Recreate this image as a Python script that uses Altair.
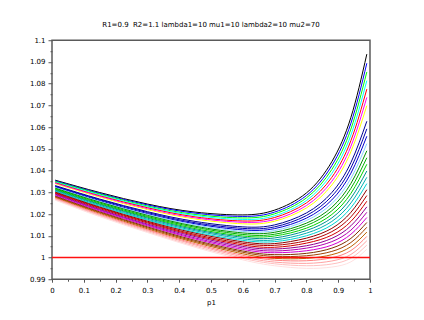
import altair as alt
import pandas as pd

# sample positions along p1
x_points = [0.01, 0.15, 0.3, 0.45, 0.6, 0.7, 0.8, 0.88, 0.94, 0.99]

# values of the 31 curves at each sample position (curve 0 = top/black ... curve 30 = lightest pink)
v001 = [1.0356, 1.0353, 1.0350, 1.0347, 1.0344, 1.0341, 1.0338, 1.0335, 1.0331, 1.0328, 1.0325, 1.0322, 1.0319, 1.0316, 1.0313, 1.0310, 1.0307, 1.0304, 1.0301, 1.0298, 1.0295, 1.0292, 1.0289, 1.0285, 1.0282, 1.0279, 1.0276, 1.0273, 1.0270, 1.0267, 1.0264]
v015 = [1.0299, 1.0295, 1.0292, 1.0288, 1.0284, 1.0281, 1.0277, 1.0273, 1.0269, 1.0266, 1.0262, 1.0258, 1.0255, 1.0251, 1.0247, 1.0244, 1.0240, 1.0236, 1.0232, 1.0229, 1.0225, 1.0221, 1.0218, 1.0214, 1.0210, 1.0207, 1.0203, 1.0199, 1.0195, 1.0192, 1.0188]
v030 = [1.0246, 1.0242, 1.0237, 1.0233, 1.0229, 1.0224, 1.0220, 1.0215, 1.0211, 1.0207, 1.0202, 1.0198, 1.0194, 1.0189, 1.0185, 1.0181, 1.0176, 1.0172, 1.0167, 1.0163, 1.0159, 1.0154, 1.0150, 1.0146, 1.0141, 1.0137, 1.0132, 1.0128, 1.0124, 1.0119, 1.0115]
v045 = [1.0209, 1.0204, 1.0198, 1.0193, 1.0187, 1.0182, 1.0177, 1.0171, 1.0166, 1.0160, 1.0155, 1.0150, 1.0144, 1.0139, 1.0133, 1.0128, 1.0123, 1.0117, 1.0112, 1.0106, 1.0101, 1.0096, 1.0090, 1.0085, 1.0079, 1.0074, 1.0069, 1.0063, 1.0058, 1.0052, 1.0047]
v060 = [1.0196, 1.0189, 1.0182, 1.0175, 1.0168, 1.0162, 1.0155, 1.0148, 1.0141, 1.0134, 1.0127, 1.0120, 1.0113, 1.0106, 1.0099, 1.0093, 1.0086, 1.0079, 1.0072, 1.0065, 1.0058, 1.0051, 1.0044, 1.0037, 1.0030, 1.0024, 1.0017, 1.0010, 1.0003, 0.9996, 0.9989]
v070 = [1.0218, 1.0209, 1.0201, 1.0192, 1.0184, 1.0175, 1.0167, 1.0158, 1.0150, 1.0141, 1.0133, 1.0124, 1.0116, 1.0107, 1.0099, 1.0090, 1.0081, 1.0073, 1.0064, 1.0056, 1.0047, 1.0039, 1.0030, 1.0022, 1.0013, 1.0005, 0.9996, 0.9988, 0.9979, 0.9971, 0.9962]
v080 = [1.0297, 1.0285, 1.0274, 1.0262, 1.0251, 1.0239, 1.0228, 1.0216, 1.0205, 1.0193, 1.0181, 1.0170, 1.0158, 1.0147, 1.0135, 1.0124, 1.0112, 1.0100, 1.0089, 1.0077, 1.0066, 1.0054, 1.0043, 1.0031, 1.0019, 1.0008, 0.9996, 0.9985, 0.9973, 0.9962, 0.9950]
v088 = [1.0441, 1.0423, 1.0405, 1.0387, 1.0369, 1.0351, 1.0334, 1.0316, 1.0299, 1.0282, 1.0265, 1.0248, 1.0231, 1.0215, 1.0198, 1.0182, 1.0166, 1.0150, 1.0134, 1.0119, 1.0103, 1.0088, 1.0073, 1.0057, 1.0043, 1.0028, 1.0013, 0.9999, 0.9984, 0.9970, 0.9956]
v094 = [1.0645, 1.0618, 1.0591, 1.0564, 1.0538, 1.0512, 1.0487, 1.0461, 1.0437, 1.0412, 1.0388, 1.0364, 1.0341, 1.0318, 1.0295, 1.0273, 1.0251, 1.0229, 1.0208, 1.0187, 1.0166, 1.0146, 1.0126, 1.0107, 1.0088, 1.0069, 1.0050, 1.0032, 1.0014, 0.9997, 0.9980]
v099 = [1.0936, 1.0894, 1.0854, 1.0814, 1.0775, 1.0737, 1.0699, 1.0663, 1.0627, 1.0592, 1.0558, 1.0524, 1.0491, 1.0459, 1.0429, 1.0398, 1.0369, 1.0340, 1.0312, 1.0285, 1.0259, 1.0233, 1.0208, 1.0184, 1.0161, 1.0139, 1.0117, 1.0097, 1.0077, 1.0057, 1.0038]

# Scilab default colormap, entries 1..31
curve_colors = [
    "#000000", "#0000FF", "#00FF00", "#00FFFF", "#FF0000", "#FF00FF", "#FFFF00", "#FFFFFF",
    "#00008F", "#0000B0", "#0000D1", "#87CEFF", "#008F00", "#00B000", "#00D100", "#008F8F",
    "#00B0B0", "#00D1D1", "#8F0000", "#B00000", "#D10000", "#8F008F", "#B000B0", "#D100D1",
    "#803100", "#A14000", "#BF6100", "#FF8080", "#FFA1A1", "#FFBFBF", "#FFE0E0",
]

# horizontal reference line y = 1 from p1 = 0 to p1 = 1
ref_x = [0.0, 1.0]
ref_y = [1.0, 1.0]

x_ticks = [0, 0.1, 0.2, 0.3, 0.4, 0.5, 0.6, 0.7, 0.8, 0.9, 1.0]
x_minor = [0.05, 0.15, 0.25, 0.35, 0.45, 0.55, 0.65, 0.75, 0.85, 0.95]
y_ticks = [0.99, 1.0, 1.01, 1.02, 1.03, 1.04, 1.05, 1.06, 1.07, 1.08, 1.09, 1.1]
y_minor = [0.995, 1.005, 1.015, 1.025, 1.035, 1.045, 1.055, 1.065, 1.075, 1.085, 1.095]

title_text = "R1=0.9\u00a0 R2=1.1 lambda1=10 mu1=10 lambda2=10 mu2=70"

columns = [v001, v015, v030, v045, v060, v070, v080, v088, v094, v099]
rows = []
for j, (xp, col) in enumerate(zip(x_points, columns)):
    for i, val in enumerate(col):
        rows.append({"curve": f"c{i:02d}", "p1": xp, "val": val, "k": j})
df = pd.DataFrame(rows)
curve_ids = [f"c{i:02d}" for i in range(len(curve_colors))]

FONT = "DejaVu Sans"
xscale = alt.Scale(domain=[0, 1], nice=False, zero=False)
yscale = alt.Scale(domain=[0.99, 1.1], nice=False, zero=False)

major_x = alt.Axis(values=x_ticks, format="~g", orient="bottom", grid=False, domain=False,
                   tickSize=3, tickColor="#555555", labelFont=FONT, labelFontSize=7,
                   labelColor="#000000", labelPadding=4, title="p1", titleFont=FONT,
                   titleFontSize=7, titleFontWeight="normal", titleColor="#000000",
                   titlePadding=5, labelFlush=False)
major_y = alt.Axis(values=y_ticks, format="~g", orient="left", grid=False, domain=False,
                   tickSize=4, tickColor="#555555", labelFont=FONT, labelFontSize=7,
                   labelColor="#000000", labelPadding=3, title=None, labelFlush=False)
minor_x = alt.Axis(values=x_minor, orient="bottom", grid=False, domain=False, labels=False,
                   tickSize=2, tickColor="#555555", title=None)
minor_y = alt.Axis(values=y_minor, orient="left", grid=False, domain=False, labels=False,
                   tickSize=2, tickColor="#555555", title=None)

curves = alt.Chart(df).mark_line(strokeWidth=1, interpolate="natural", clip=True).encode(
    x=alt.X("p1:Q", scale=xscale, axis=major_x),
    y=alt.Y("val:Q", scale=yscale, axis=major_y),
    color=alt.Color("curve:N", scale=alt.Scale(domain=curve_ids, range=curve_colors), legend=None),
    order="k:Q",
)

ref_df = pd.DataFrame({"p1": ref_x, "val": ref_y})
ref = alt.Chart(ref_df).mark_line(stroke="#FF1010", strokeWidth=1.5).encode(
    x=alt.X("p1:Q", scale=xscale, axis=minor_x),
    y=alt.Y("val:Q", scale=yscale, axis=minor_y),
)

chart = alt.layer(curves, ref).resolve_scale(x="shared", y="shared").resolve_axis(
    x="independent", y="independent"
).properties(
    width=318,
    height=239,
    title=alt.TitleParams(text=title_text, font=FONT, fontSize=7, fontWeight="normal",
                          color="#000000", anchor="middle", offset=8),
    autosize=alt.AutoSizeParams(type="none"),
    padding={"left": 44, "top": 32.23, "right": 46, "bottom": 33},
    background="#FFFFFF",
).configure_view(stroke="#5a5a5a", strokeWidth=1.5)

chart.save("out.html", embed_options={"renderer": "svg", "actions": False})
